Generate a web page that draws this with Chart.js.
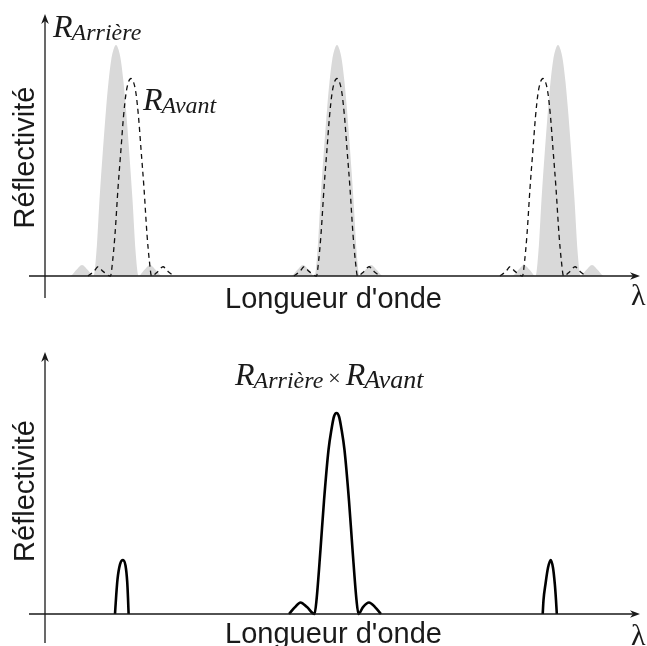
<!DOCTYPE html>
<html><head><meta charset="utf-8">
<script src="https://cdn.jsdelivr.net/npm/chart.js@4"></script>
<style>
html,body{margin:0;padding:0;background:#fff;}
#wrap{position:relative;width:647px;height:646px;overflow:hidden;background:#fff;}
#top{position:absolute;left:0;top:0;width:647px;height:320px;}
#bot{position:absolute;left:0;top:320px;width:647px;height:326px;}
</style></head><body>
<div id="wrap">
<div id="top"><canvas id="c1"></canvas></div>
<div id="bot"><canvas id="c2"></canvas></div>
</div>
<script>
// Wavelength (arbitrary units) and reflectivity values
const xArriere = [-1.6,
 2.5,3.1,3.7,4.3,4.85,5.15,5.45,5.8,6.1,6.35,6.6,6.85,7.1,7.35,7.6,7.85,8.1,8.4,8.75,9.05,9.35,9.9,10.5,11.1,11.7,
 24.6,25.2,25.8,26.4,26.95,27.25,27.55,27.9,28.2,28.45,28.7,28.95,29.2,29.45,29.7,29.95,30.2,30.5,30.85,31.15,31.45,32.0,32.6,33.2,33.8,
 46.7,47.3,47.9,48.5,49.05,49.35,49.65,50.0,50.3,50.55,50.8,51.05,51.3,51.55,51.8,52.05,52.3,52.6,52.95,53.25,53.55,54.1,54.7,55.3,55.9,
 59.5];
const yArriere = [0,
 0,0.025,0.048,0.025,0,0.11,0.33,0.55,0.72,0.84,0.93,0.98,1.0,0.98,0.93,0.84,0.72,0.55,0.33,0.11,0,0.025,0.048,0.025,0,
 0,0.025,0.048,0.025,0,0.11,0.33,0.55,0.72,0.84,0.93,0.98,1.0,0.98,0.93,0.84,0.72,0.55,0.33,0.11,0,0.025,0.048,0.025,0,
 0,0.025,0.048,0.025,0,0.11,0.33,0.55,0.72,0.84,0.93,0.98,1.0,0.98,0.93,0.84,0.72,0.55,0.33,0.11,0,0.025,0.048,0.025,0,
 0];

const xAvant = [
 4.3,4.9,5.3,5.8,6.55,6.75,7.0,7.3,7.6,7.85,8.1,8.35,8.6,8.85,9.1,9.35,9.6,9.9,10.2,10.45,10.65,11.3,11.8,12.3,12.9,
 18,
 24.9,25.5,25.9,26.4,27.15,27.35,27.6,27.9,28.2,28.45,28.7,28.95,29.2,29.45,29.7,29.95,30.2,30.5,30.8,31.05,31.25,31.9,32.4,32.9,33.5,
 40,
 45.5,46.1,46.5,47.0,47.75,47.95,48.2,48.5,48.8,49.05,49.3,49.55,49.8,50.05,50.3,50.55,50.8,51.1,51.4,51.65,51.85,52.5,53.0,53.5,54.1];
const yAvant = [
 0,0.02,0.04,0.02,0,0.06,0.18,0.38,0.55,0.69,0.79,0.84,0.855,0.84,0.79,0.69,0.55,0.38,0.18,0.06,0,0.02,0.04,0.02,0,
 null,
 0,0.02,0.04,0.02,0,0.06,0.18,0.38,0.55,0.69,0.79,0.84,0.855,0.84,0.79,0.69,0.55,0.38,0.18,0.06,0,0.02,0.04,0.02,0,
 null,
 0,0.02,0.04,0.02,0,0.06,0.18,0.38,0.55,0.69,0.79,0.84,0.855,0.84,0.79,0.69,0.55,0.38,0.18,0.06,0,0.02,0.04,0.02,0];

const xProduit = [
 7.0,7.12,7.25,7.5,7.8,8.05,8.22,8.3,8.36,
 16,
 24.4,25.0,25.55,26.2,26.95,27.15,27.55,27.9,28.35,28.65,28.9,29.15,29.4,29.65,29.95,30.4,30.75,31.15,31.35,31.8,32.4,33.0,33.6,
 42,
 49.77,49.85,50.05,50.3,50.57,50.8,50.98,51.1,51.18];
const yProduit = [
 0,0.08,0.15,0.215,0.234,0.21,0.14,0.07,0,
 null,
 0,0.03,0.05,0.03,0,0.06,0.28,0.49,0.71,0.8,0.855,0.87,0.855,0.8,0.71,0.49,0.28,0.06,0,0.03,0.05,0.03,0,
 null,
 0,0.06,0.13,0.2,0.234,0.2,0.13,0.06,0];

const xRange = [-1.6, 59.5];
const labelY = 'Réflectivité';
const labelX = "Longueur d'onde";

function pts(xs, ys){ return xs.map((x,i)=>({x:x, y:ys[i]})); }

const INK = '#1a1a1a';
function arrow(ctx, tx, ty, dir){
  ctx.save();
  ctx.translate(tx, ty);
  if (dir === 'up') ctx.rotate(-Math.PI/2);
  ctx.beginPath();
  ctx.moveTo(0,0);
  ctx.lineTo(-10,-3.8);
  ctx.lineTo(-7,0);
  ctx.lineTo(-10,3.8);
  ctx.closePath();
  ctx.fillStyle = INK;
  ctx.fill();
  ctx.restore();
}
function drawR(ctx, x, y, sub, subSize){
  ctx.textAlign = 'left';
  ctx.font = 'italic 32px "Liberation Serif"';
  ctx.fillText('R', x, y);
  const w = ctx.measureText('R').width;
  ctx.font = 'italic ' + (subSize || 24) + 'px "Liberation Serif"';
  ctx.fillText(sub, x + w - 1, y + 3);
  return x + w - 1 + ctx.measureText(sub).width;
}

function axesPlugin(cfg){
  return {
    id: 'axes_' + cfg.name,
    afterDatasetsDraw(chart){
      const ctx = chart.ctx, a = chart.chartArea;
      const xs = chart.scales.x, ys = chart.scales.y;
      const x0 = xs.getPixelForValue(0), y0 = ys.getPixelForValue(0);
      ctx.save();
      ctx.strokeStyle = INK;
      ctx.lineWidth = 1.3;
      ctx.beginPath();
      ctx.moveTo(a.left, y0); ctx.lineTo(a.right - 6, y0);
      ctx.moveTo(x0, a.bottom); ctx.lineTo(x0, a.top + 6);
      ctx.stroke();
      arrow(ctx, a.right, y0, 'right');
      arrow(ctx, x0, a.top, 'up');
      ctx.fillStyle = INK;
      ctx.font = '29px "Liberation Sans"';
      ctx.textAlign = 'center';
      ctx.textBaseline = 'alphabetic';
      ctx.fillText(labelX, 333.5, y0 + cfg.xTitleDy);
      ctx.save();
      ctx.translate(34, cfg.yTitleCy);
      ctx.rotate(-Math.PI/2);
      ctx.fillText(labelY, 0, 0);
      ctx.restore();
      ctx.font = '30px "Liberation Serif"';
      ctx.textAlign = 'left';
      ctx.fillText('λ', 631, y0 + cfg.lambdaDy);
      cfg.extra(ctx);
      ctx.restore();
    }
  };
}

const common = (pad, yMin, yMax) => ({
  responsive: true,
  maintainAspectRatio: false,
  animation: false,
  layout: { padding: pad },
  plugins: { legend: {display:false}, tooltip: {enabled:false}, title:{display:false} },
  scales: {
    x: { type: 'linear', display: false, min: xRange[0], max: xRange[1] },
    y: { type: 'linear', display: false, min: yMin, max: yMax }
  },
  elements: { point: { radius: 0 } }
});

new Chart(document.getElementById('c1'), {
  type: 'line',
  data: { datasets: [
    { label: 'R Arrière', data: pts(xArriere, yArriere), order: 2,
      borderWidth: 0, borderColor: 'rgba(0,0,0,0)', backgroundColor: '#d9d9d9',
      fill: 'origin', cubicInterpolationMode: 'monotone', pointRadius: 0 },
    { label: 'R Avant', data: pts(xAvant, yAvant), order: 1,
      borderWidth: 1.3, borderColor: '#111', borderDash: [5,4], fill: false,
      spanGaps: false, cubicInterpolationMode: 'monotone', pointRadius: 0 }
  ]},
  options: common({left:29, right:7, top:14, bottom:22}, -0.0952, 1.1342),
  plugins: [axesPlugin({ name:'top', xTitleDy: 32, yTitleCy: 157.5, lambdaDy: 29,
    extra(ctx){ drawR(ctx, 53, 37, 'Arrière'); drawR(ctx, 143, 110, 'Avant'); } })]
});

new Chart(document.getElementById('c2'), {
  type: 'line',
  data: { datasets: [
    { label: 'R Arrière × R Avant', data: pts(xProduit, yProduit),
      borderWidth: 2.6, borderColor: '#000', fill: false, spanGaps: false,
      cubicInterpolationMode: 'monotone', pointRadius: 0 }
  ]},
  options: common({left:29, right:7, top:32, bottom:3}, -0.1255, 1.1342),
  plugins: [axesPlugin({ name:'bot', xTitleDy: 29, yTitleCy: 171, lambdaDy: 31,
    extra(ctx){
      let x = drawR(ctx, 235, 65, 'Arrière');
      ctx.font = '22px "Liberation Serif"';
      ctx.fillText('×', x + 5, 65);
      x = x + 5 + ctx.measureText('×').width + 5;
      drawR(ctx, x, 65, 'Avant', 26);
    } })]
});
</script>
</body></html>
